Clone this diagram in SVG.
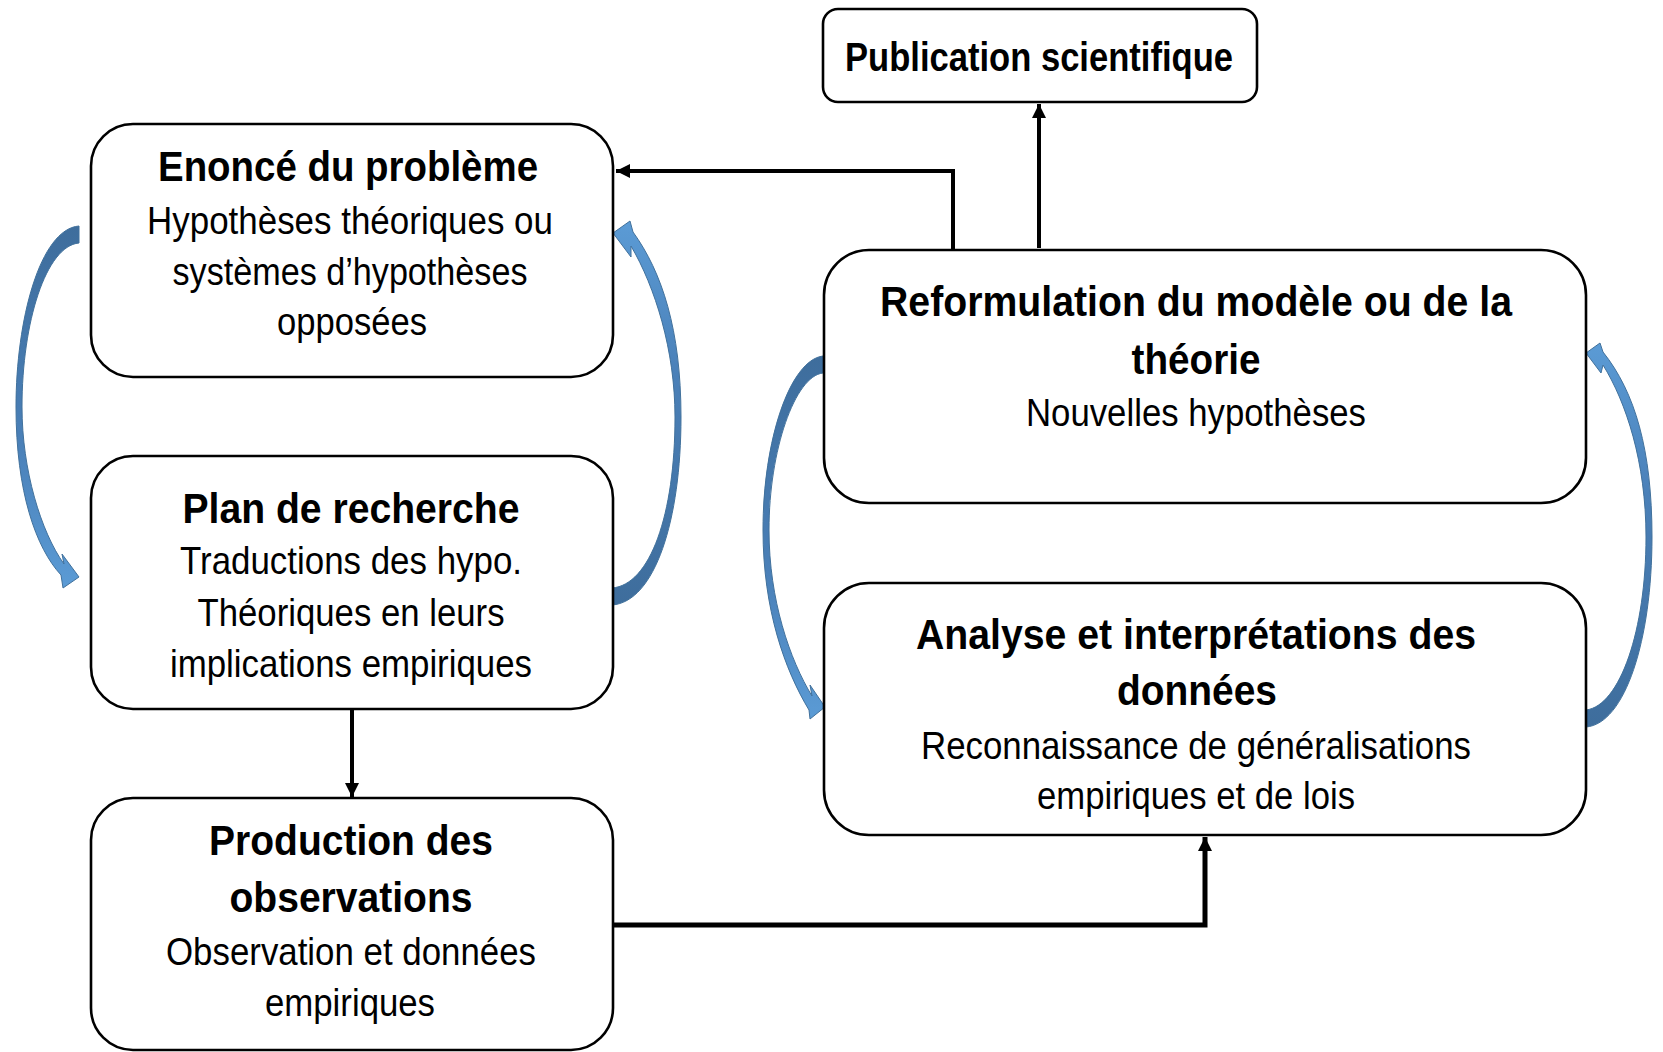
<svg xmlns="http://www.w3.org/2000/svg" width="1663" height="1052" viewBox="0 0 1663 1052">
<style>
.box{fill:#ffffff;stroke:#000000;stroke-width:2.6}
.t{font-family:"Liberation Sans Narrow","Liberation Sans",Arial,sans-serif;text-anchor:middle;fill:#000000}
.b{font-weight:bold;font-size:42px}
.n{font-size:39px}
.con{fill:none;stroke:#000000;stroke-width:4}
.blue{stroke:#41719C;stroke-width:1}
</style>
<defs>
<marker id="ah" markerUnits="userSpaceOnUse" markerWidth="16" markerHeight="16" refX="14" refY="7" orient="auto" viewBox="0 0 16 14">
<path d="M0,0 L14,7 L0,14 z" fill="#000000"/>
</marker>
<linearGradient id="gDown" x1="0" y1="0" x2="0" y2="1">
<stop offset="0" stop-color="#3E6D9C"/>
<stop offset="0.6" stop-color="#4A80B8"/>
<stop offset="1" stop-color="#5B9BD5"/>
</linearGradient>
<linearGradient id="gUp" x1="0" y1="1" x2="0" y2="0">
<stop offset="0" stop-color="#3E6D9C"/>
<stop offset="0.6" stop-color="#4A80B8"/>
<stop offset="1" stop-color="#5B9BD5"/>
</linearGradient>
</defs>
<rect width="1663" height="1052" fill="#ffffff"/>

<g id="connectors">
<polyline class="con" points="953,249 953,171 616,171" marker-end="url(#ah)"/>
<line class="con" x1="1039" y1="248" x2="1039" y2="104" marker-end="url(#ah)"/>
<line class="con" x1="352" y1="709" x2="352" y2="797" marker-end="url(#ah)"/>
<polyline class="con" style="stroke-width:5" points="613,925 1205,925 1205,837" marker-end="url(#ah)"/>
<path id="arrow-left-1" class="blue" fill="url(#gDown)" d="M79,226 C40,229 16,320 16,407 C16,492 36,548 61,575 L63,588 L79,577 L62,554 L64,564 C41,532 22,470 22,407 C22,322 46,246 79,243 Z"/>
<path id="arrow-left-2" class="blue" fill="url(#gUp)" d="M612,605 C655,602 681,520 681,417 C681,330 662,272 633,232 L630,221 L613,233 L631,257 L631,246 C655,287 675,350 675,417 C675,515 650,585 612,588 Z"/>
<path id="arrow-right-1" class="blue" fill="url(#gDown)" d="M823,356 C790,360 763,440 763,530 C763,610 785,670 809,710 L810,719 L825,707 L810,685 L812,696 C790,660 769,600 769,530 C769,450 795,376 823,373 Z"/>
<path id="arrow-right-2" class="blue" fill="url(#gUp)" d="M1586,727 C1625,724 1652,640 1652,537 C1652,450 1635,392 1603,352 L1600,343 L1586,353 L1601,373 L1603,365 C1626,402 1646,462 1646,537 C1646,630 1620,706 1586,710 Z"/>
</g>

<g id="publication">
<rect class="box" x="823" y="9" width="434" height="93" rx="15"/>
<text class="t b" x="1039" y="71" style="font-size:40px" textLength="388" lengthAdjust="spacingAndGlyphs">Publication scientifique</text>
</g>

<g id="enonce">
<rect class="box" x="91" y="124" width="522" height="253" rx="42"/>
<text class="t b" x="348" y="181" textLength="380" lengthAdjust="spacingAndGlyphs">Enoncé du problème</text>
<text class="t n" x="350" y="234" textLength="406" lengthAdjust="spacingAndGlyphs">Hypothèses théoriques ou</text>
<text class="t n" x="350" y="285" textLength="355" lengthAdjust="spacingAndGlyphs">systèmes d’hypothèses</text>
<text class="t n" x="352" y="335" textLength="150" lengthAdjust="spacingAndGlyphs">opposées</text>
</g>

<g id="plan">
<rect class="box" x="91" y="456" width="522" height="253" rx="42"/>
<text class="t b" x="351" y="523" textLength="337" lengthAdjust="spacingAndGlyphs">Plan de recherche</text>
<text class="t n" x="351" y="574" textLength="342" lengthAdjust="spacingAndGlyphs">Traductions des hypo.</text>
<text class="t n" x="351" y="626" textLength="307" lengthAdjust="spacingAndGlyphs">Théoriques en leurs</text>
<text class="t n" x="351" y="677" textLength="362" lengthAdjust="spacingAndGlyphs">implications empiriques</text>
</g>

<g id="production">
<rect class="box" x="91" y="798" width="522" height="252" rx="42"/>
<text class="t b" x="351" y="855" textLength="284" lengthAdjust="spacingAndGlyphs">Production des</text>
<text class="t b" x="351" y="912" textLength="243" lengthAdjust="spacingAndGlyphs">observations</text>
<text class="t n" x="351" y="965" textLength="370" lengthAdjust="spacingAndGlyphs">Observation et données</text>
<text class="t n" x="350" y="1016" textLength="170" lengthAdjust="spacingAndGlyphs">empiriques</text>
</g>

<g id="reformulation">
<rect class="box" x="824" y="250" width="762" height="253" rx="45"/>
<text class="t b" x="1196" y="316" textLength="632" lengthAdjust="spacingAndGlyphs">Reformulation du modèle ou de la</text>
<text class="t b" x="1196" y="374" textLength="129" lengthAdjust="spacingAndGlyphs">théorie</text>
<text class="t n" x="1196" y="426" textLength="340" lengthAdjust="spacingAndGlyphs">Nouvelles hypothèses</text>
</g>

<g id="analyse">
<rect class="box" x="824" y="583" width="762" height="252" rx="45"/>
<text class="t b" x="1196" y="649" textLength="560" lengthAdjust="spacingAndGlyphs">Analyse et interprétations des</text>
<text class="t b" x="1197" y="705" textLength="160" lengthAdjust="spacingAndGlyphs">données</text>
<text class="t n" x="1196" y="759" textLength="550" lengthAdjust="spacingAndGlyphs">Reconnaissance de généralisations</text>
<text class="t n" x="1196" y="809" textLength="318" lengthAdjust="spacingAndGlyphs">empiriques et de lois</text>
</g>
</svg>
